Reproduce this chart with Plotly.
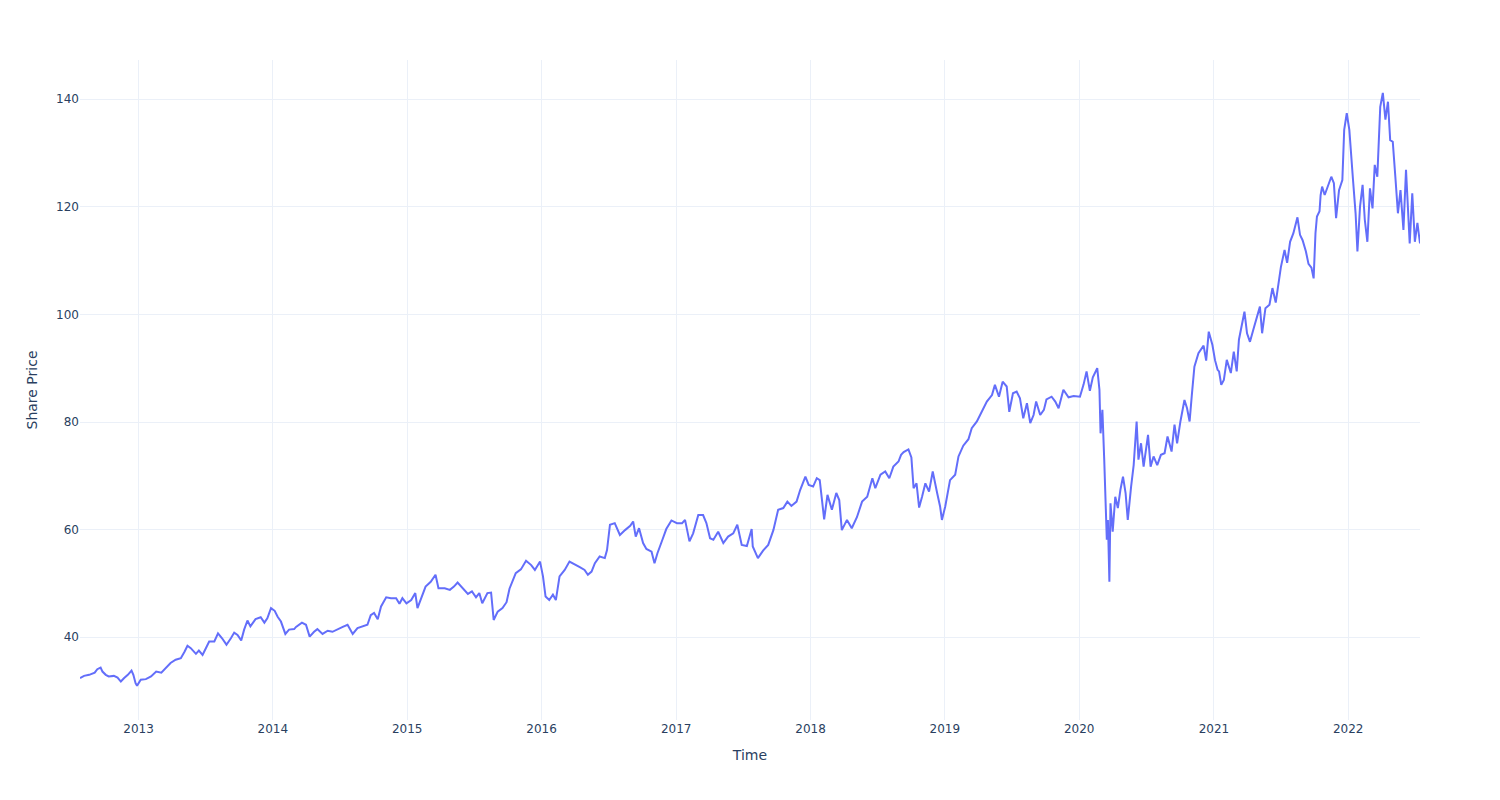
import plotly.graph_objects as go

dates = [
    "2012-07-26","2012-08-06","2012-08-20","2012-09-04","2012-09-11","2012-09-20","2012-09-25","2012-10-04","2012-10-12","2012-10-26",
    "2012-11-05","2012-11-14","2012-11-23","2012-12-03","2012-12-13","2012-12-18","2012-12-24","2012-12-28",
    "2013-01-07","2013-01-21","2013-02-04","2013-02-18","2013-03-04","2013-03-15","2013-03-29","2013-04-12","2013-04-26","2013-05-06",
    "2013-05-14","2013-05-23","2013-06-06","2013-06-14","2013-06-24","2013-07-03","2013-07-12","2013-07-26","2013-08-05","2013-08-16",
    "2013-08-28","2013-09-09","2013-09-18","2013-09-27","2013-10-07","2013-10-15","2013-10-24","2013-11-01","2013-11-15","2013-11-29",
    "2013-12-09","2013-12-17","2013-12-27",
    "2014-01-06","2014-01-14","2014-01-23","2014-02-04","2014-02-14","2014-02-28","2014-03-05","2014-03-21","2014-04-01","2014-04-11",
    "2014-04-23","2014-05-02","2014-05-16","2014-05-30","2014-06-12","2014-06-26","2014-07-10","2014-07-23","2014-08-06","2014-08-19",
    "2014-09-02","2014-09-15","2014-09-24","2014-10-03","2014-10-13","2014-10-22","2014-11-05","2014-11-18","2014-12-02","2014-12-11",
    "2014-12-19","2014-12-30",
    "2015-01-12","2015-01-23","2015-01-29","2015-02-09","2015-02-20","2015-03-06","2015-03-19","2015-03-27","2015-04-13","2015-04-27",
    "2015-05-08","2015-05-18","2015-06-01","2015-06-15","2015-06-26","2015-07-07","2015-07-16","2015-07-24","2015-08-07","2015-08-17",
    "2015-08-24","2015-09-04","2015-09-17","2015-09-28","2015-10-06","2015-10-16","2015-10-23","2015-11-06","2015-11-20","2015-12-04",
    "2015-12-14","2015-12-28",
    "2016-01-05","2016-01-12","2016-01-22","2016-02-01","2016-02-09","2016-02-19","2016-03-04","2016-03-17","2016-03-31","2016-04-14",
    "2016-04-27","2016-05-06","2016-05-16","2016-05-25","2016-06-07","2016-06-21","2016-06-27","2016-07-05","2016-07-18","2016-08-01",
    "2016-08-15","2016-08-29","2016-09-06","2016-09-13","2016-09-22","2016-10-03","2016-10-12","2016-10-26","2016-11-03","2016-11-11",
    "2016-11-25","2016-12-05","2016-12-19",
    "2017-01-03","2017-01-17","2017-01-25","2017-02-06","2017-02-16","2017-03-02","2017-03-15","2017-03-24","2017-04-03","2017-04-12",
    "2017-04-25","2017-05-09","2017-05-22","2017-06-05","2017-06-16","2017-06-28","2017-07-12","2017-07-25","2017-07-28","2017-08-11",
    "2017-08-25","2017-09-08","2017-09-22","2017-10-05","2017-10-19","2017-10-30","2017-11-10","2017-11-24","2017-12-04","2017-12-18",
    "2017-12-27",
    "2018-01-08","2018-01-18","2018-01-26","2018-02-07","2018-02-16","2018-02-28","2018-03-12","2018-03-20","2018-03-27","2018-04-10",
    "2018-04-23","2018-05-07","2018-05-21","2018-06-04","2018-06-18","2018-06-26","2018-07-10","2018-07-23","2018-08-03","2018-08-14",
    "2018-08-28","2018-09-04","2018-09-11","2018-09-24","2018-10-02","2018-10-08","2018-10-16","2018-10-23","2018-10-31","2018-11-09",
    "2018-11-19","2018-11-29","2018-12-11","2018-12-19","2018-12-24",
    "2019-01-02","2019-01-15","2019-01-29","2019-02-07","2019-02-20","2019-03-06","2019-03-15","2019-03-29","2019-04-11","2019-04-25",
    "2019-05-09","2019-05-17","2019-05-28","2019-06-07","2019-06-18","2019-06-25","2019-07-05","2019-07-15","2019-07-24","2019-08-02",
    "2019-08-12","2019-08-21","2019-08-30","2019-09-06","2019-09-17","2019-09-27","2019-10-04","2019-10-18","2019-10-28","2019-11-06",
    "2019-11-19","2019-12-03","2019-12-17",
    "2020-01-03","2020-01-13","2020-01-21","2020-01-30","2020-02-07","2020-02-19","2020-02-25","2020-02-28","2020-03-04","2020-03-09",
    "2020-03-12","2020-03-16","2020-03-19","2020-03-23","2020-03-26","2020-04-01","2020-04-08","2020-04-15","2020-04-22","2020-04-29",
    "2020-05-06","2020-05-12","2020-05-21","2020-05-28","2020-06-05","2020-06-10","2020-06-17","2020-06-24","2020-07-06","2020-07-13",
    "2020-07-21","2020-07-31","2020-08-10","2020-08-20","2020-08-28","2020-09-08","2020-09-16","2020-09-23","2020-10-02","2020-10-13",
    "2020-10-20","2020-10-27","2020-11-02","2020-11-09","2020-11-20","2020-11-25","2020-12-04","2020-12-11","2020-12-18","2020-12-28",
    "2021-01-04","2021-01-11","2021-01-15","2021-01-21","2021-01-28","2021-02-05","2021-02-16","2021-02-24","2021-03-04","2021-03-10",
    "2021-03-16","2021-03-25","2021-04-01","2021-04-09","2021-04-19","2021-04-27","2021-05-06","2021-05-12","2021-05-21","2021-06-01",
    "2021-06-09","2021-06-18","2021-06-28","2021-07-02","2021-07-12","2021-07-19","2021-07-27","2021-08-05","2021-08-16","2021-08-23",
    "2021-08-30","2021-09-08","2021-09-15","2021-09-23","2021-09-29","2021-10-04","2021-10-08","2021-10-15","2021-10-18","2021-10-22",
    "2021-10-29","2021-11-05","2021-11-16","2021-11-23","2021-11-29","2021-12-07","2021-12-16","2021-12-21","2021-12-28",
    "2022-01-04","2022-01-10","2022-01-14","2022-01-21","2022-01-26","2022-02-02","2022-02-09","2022-02-15","2022-02-22","2022-03-01",
    "2022-03-08","2022-03-14","2022-03-21","2022-03-29","2022-04-05","2022-04-12","2022-04-19","2022-04-25","2022-05-02","2022-05-09",
    "2022-05-16","2022-05-23","2022-05-31","2022-06-07","2022-06-13","2022-06-17","2022-06-24","2022-07-01","2022-07-08","2022-07-15",
]

share_price = [
    32.4, 32.8, 33.0, 33.4, 34.05, 34.35, 33.6, 33.0, 32.7, 32.8,
    32.5, 31.75, 32.4, 33.0, 33.8, 33.0, 31.45, 30.95,
    32.1, 32.2, 32.7, 33.6, 33.4, 34.2, 35.2, 35.8, 36.1, 37.3,
    38.4, 37.95, 36.9, 37.5, 36.7, 37.95, 39.2, 39.2, 40.7, 39.8,
    38.6, 39.8, 40.85, 40.4, 39.4, 41.4, 43.1, 42.0, 43.35, 43.7,
    42.7, 43.5, 45.4,
    44.9, 43.8, 42.9, 40.6, 41.4, 41.5, 41.9, 42.7, 42.3, 40.1,
    41.0, 41.5, 40.6, 41.2, 41.0, 41.5, 41.9, 42.3, 40.6, 41.7,
    42.0, 42.3, 44.1, 44.5, 43.35, 45.7, 47.4, 47.25, 47.25, 46.2,
    47.25, 46.3,
    46.9, 48.2, 45.4, 47.55, 49.4, 50.3, 51.6, 49.1, 49.1, 48.8,
    49.4, 50.15, 49.1, 48.05, 48.5, 47.4, 48.2, 46.3, 48.2, 48.3,
    43.2, 44.75, 45.4, 46.5, 49.0, 50.65, 51.9, 52.6, 54.2, 53.4,
    52.5, 54.05,
    51.3, 47.55, 46.9, 47.9, 46.9, 51.3, 52.5, 54.05, 53.6, 53.0,
    52.5, 51.6, 52.2, 53.75, 55.0, 54.7, 56.2, 60.9, 61.2, 59.0,
    59.9, 60.7, 61.5, 58.7, 60.25, 57.5, 56.4, 55.9, 53.75, 55.6,
    58.2, 60.1, 61.7,
    61.2, 61.2, 61.8, 57.8, 59.3, 62.7, 62.7, 61.2, 58.4, 58.1,
    59.6, 57.5, 58.7, 59.3, 60.9, 57.15, 56.95, 60.1, 56.85, 54.7,
    56.1, 57.15, 59.9, 63.7, 64.0, 65.2, 64.4, 65.2, 67.4, 69.85,
    68.3,
    68.0, 69.55, 69.2, 61.9, 66.45, 63.7, 66.8, 65.5, 59.9, 61.8,
    60.25, 62.3, 65.2, 66.1, 69.55, 67.7, 70.2, 70.8, 69.55, 71.7,
    72.65, 73.9, 74.4, 74.9, 73.4, 67.7, 68.6, 64.1, 66.1, 68.6,
    67.05, 70.8, 66.8, 64.3, 61.8,
    64.3, 69.2, 70.2, 73.6, 75.6, 76.8, 78.85, 80.1, 81.9, 83.8,
    85.0, 86.9, 84.7, 87.5, 86.6, 81.9, 85.35, 85.65, 84.4, 80.7,
    83.5, 79.8, 81.3, 83.8, 81.3, 82.25, 84.2, 84.7, 83.8, 82.55,
    86.0, 84.6, 84.85,
    84.7, 87.0, 89.4, 85.8, 88.3, 90.0, 86.0, 77.9, 82.25, 73.0,
    66.8, 58.1, 61.8, 50.3, 64.9, 59.6, 66.1, 64.0, 67.4, 69.85,
    66.8, 61.8, 68.0, 72.0, 80.1, 73.0, 76.05, 71.7, 77.6, 71.7,
    73.6, 72.0, 73.9, 74.2, 77.3, 74.5, 79.5, 76.05, 80.1, 84.1,
    82.55, 80.1, 85.0, 90.3, 92.8, 93.4, 94.2, 91.4, 96.8, 94.3,
    91.5, 89.7, 89.4, 86.9, 87.8, 91.55, 89.1, 93.1, 89.4, 95.3,
    97.7, 100.5, 96.5, 94.9, 97.4, 99.3, 101.45, 96.5, 101.15, 101.8,
    104.9, 102.2, 106.4, 108.8, 112.0, 109.6, 113.5, 115.1, 118.05, 114.8,
    113.8, 111.7, 109.4, 108.7, 106.7, 115.1, 118.2, 119.2, 122.2, 123.75,
    122.2, 123.45, 125.6, 124.4, 117.9, 123.1, 125.0, 134.3, 137.4,
    134.3, 127.5, 125.0, 118.8, 111.7, 120.0, 124.1, 117.6, 113.5, 123.45,
    119.7, 127.8, 125.6, 138.6, 141.2, 136.2, 139.55, 132.4, 132.1, 125.6,
    118.8, 123.1, 115.7, 126.9, 117.6, 113.2, 122.5, 113.5, 117.0, 113.2,
]

x_title = "Time"
y_title = "Share Price"

fig = go.Figure()
fig.add_trace(go.Scatter(
    x=dates, y=share_price, mode="lines",
    line=dict(color="#636efa", width=2),
    name="Share Price",
))
fig.update_layout(
    template="plotly_white",
    font=dict(family="DejaVu Sans, Verdana, sans-serif", size=12, color="#2a3f5f"),
    width=1500, height=800,
    margin=dict(l=80, r=80, t=60, b=80),
    showlegend=False,
    xaxis=dict(title=dict(text=x_title)),
    yaxis=dict(title=dict(text=y_title), range=[24.6, 147.3]),
)
fig.write_html("out.html")
